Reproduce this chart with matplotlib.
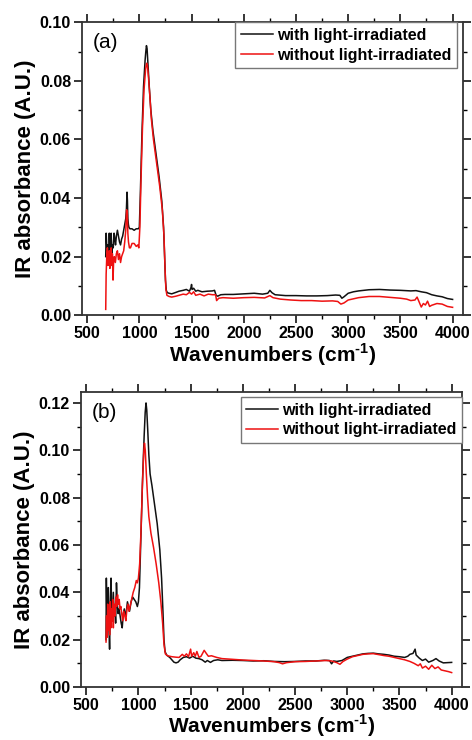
from matplotlib import pyplot as plt
from matplotlib.ticker import MultipleLocator, FormatStrFormatter

# panel (a)
a_w_black = [678, 682, 690, 698, 705, 712, 718, 724, 730, 737, 743, 750, 758, 765, 772, 780, 790, 800, 810, 820,
             830, 840, 850, 860, 870, 876, 882, 886, 890, 895, 900, 910, 930, 950, 970, 990, 1000, 1010, 1025, 1040,
             1055, 1062, 1068, 1074, 1082, 1095, 1110, 1130, 1160, 1190, 1215, 1232, 1242, 1250, 1258, 1268, 1285,
             1310, 1350, 1380, 1420, 1450, 1480, 1495, 1500, 1505, 1520, 1540, 1560, 1600, 1650, 1700, 1720, 1735,
             1750, 1780, 1820, 1900, 2000, 2100, 2180, 2230, 2250, 2270, 2300, 2400, 2500, 2600, 2700, 2800, 2880,
             2920, 2940, 2960, 3000, 3050, 3100, 3200, 3300, 3400, 3500, 3600, 3650, 3700, 3750, 3800, 3850, 3900,
             3950, 4000]
a_black = [0.020, 0.028, 0.022, 0.024, 0.021, 0.028, 0.023, 0.022, 0.028, 0.021, 0.024, 0.023, 0.028, 0.026, 0.024,
           0.027, 0.029, 0.027, 0.025, 0.024, 0.026, 0.027, 0.029, 0.031, 0.033, 0.036, 0.042, 0.039, 0.033, 0.031,
           0.030, 0.0295, 0.0295, 0.029, 0.0295, 0.0295, 0.030, 0.042, 0.062, 0.078, 0.087, 0.090, 0.092, 0.091,
           0.086, 0.078, 0.070, 0.063, 0.055, 0.047, 0.039, 0.030, 0.020, 0.012, 0.0085, 0.0077, 0.0075, 0.0073,
           0.0078, 0.0082, 0.0085, 0.0088, 0.0082, 0.0095, 0.0105, 0.0088, 0.0092, 0.0082, 0.0085, 0.0080, 0.0082,
           0.0083, 0.0085, 0.0068, 0.0065, 0.0070, 0.0071, 0.0071, 0.0073, 0.0075, 0.0072, 0.0075, 0.0085, 0.0077,
           0.0070, 0.0067, 0.0067, 0.0066, 0.0066, 0.0067, 0.0069, 0.0068, 0.0058, 0.0063, 0.0075, 0.0080, 0.0083,
           0.0087, 0.0088, 0.0086, 0.0085, 0.0083, 0.0084, 0.0080, 0.0077, 0.0070, 0.0066, 0.0063, 0.0057, 0.0054]

a_w_red = [678, 682, 688, 694, 700, 706, 712, 718, 724, 730, 736, 742, 748, 754, 760, 770, 780, 790, 800, 810, 820,
           830, 840, 850, 860, 870, 878, 884, 890, 896, 905, 915, 930, 950, 970, 985, 995, 1005, 1015, 1030, 1045,
           1060, 1070, 1078, 1088, 1100, 1115, 1135, 1165, 1195, 1220, 1236, 1246, 1254, 1264, 1285, 1310, 1350,
           1380, 1420, 1450, 1480, 1500, 1520, 1540, 1580, 1620, 1660, 1700, 1730, 1740, 1760, 1800, 1900, 2000,
           2100, 2200, 2250, 2280, 2350, 2450, 2550, 2650, 2750, 2850, 2900, 2930, 2960, 3000, 3100, 3200, 3300,
           3400, 3500, 3560, 3600, 3640, 3660, 3680, 3700, 3720, 3740, 3760, 3780, 3800, 3850, 3900, 3950, 4000]
a_red = [0.002, 0.014, 0.020, 0.023, 0.017, 0.021, 0.022, 0.016, 0.019, 0.023, 0.017, 0.021, 0.012, 0.019, 0.020,
         0.018, 0.021, 0.022, 0.019, 0.021, 0.018, 0.020, 0.021, 0.022, 0.025, 0.029, 0.036, 0.035, 0.028, 0.025,
         0.023, 0.023, 0.0245, 0.0245, 0.0235, 0.024, 0.023, 0.030, 0.045, 0.064, 0.077, 0.084, 0.086, 0.085, 0.081,
         0.075, 0.067, 0.060, 0.052, 0.044, 0.036, 0.027, 0.016, 0.009, 0.0068, 0.0064, 0.0062, 0.0065, 0.0068,
         0.0072, 0.0070, 0.0078, 0.0072, 0.0080, 0.0068, 0.0072, 0.0066, 0.0072, 0.0070, 0.0070, 0.0050, 0.0058,
         0.0060, 0.0058, 0.0060, 0.0061, 0.0059, 0.0067, 0.0060, 0.0055, 0.0052, 0.0050, 0.0050, 0.0048, 0.0049,
         0.0047, 0.0038, 0.0042, 0.0052, 0.0060, 0.0064, 0.0064, 0.0061, 0.0058, 0.0055, 0.0050, 0.0052, 0.0062,
         0.0045, 0.0028, 0.0040, 0.0035, 0.0048, 0.0030, 0.0034, 0.0040, 0.0038, 0.0030, 0.0027]

# panel (b)
b_w_black = [690, 693, 698, 705, 712, 718, 724, 730, 738, 745, 752, 760, 768, 775, 782, 790, 798, 806, 815, 825, 835,
             845, 855, 865, 875, 885, 895, 905, 915, 930, 945, 960, 975, 990, 1000, 1010, 1025, 1040, 1055, 1065,
             1073, 1080, 1090, 1100, 1112, 1130, 1155, 1180, 1205, 1222, 1235, 1245, 1255, 1270, 1300, 1320, 1340,
             1360, 1380, 1400, 1430, 1460, 1490, 1520, 1550, 1580, 1610, 1640, 1660, 1690, 1720, 1760, 1800, 1900,
             2000, 2100, 2200, 2300, 2400, 2500, 2600, 2700, 2780, 2830, 2850, 2870, 2900, 2950, 3000, 3050, 3100,
             3150, 3200, 3250, 3300, 3350, 3400, 3450, 3500, 3550, 3580, 3600, 3630, 3650, 3660, 3690, 3720, 3750,
             3780, 3820, 3850, 3880, 3920, 3960, 4000]
b_black = [0.020, 0.046, 0.030, 0.033, 0.042, 0.025, 0.016, 0.033, 0.046, 0.030, 0.028, 0.040, 0.030, 0.033, 0.027,
           0.044, 0.035, 0.031, 0.033, 0.030, 0.027, 0.025, 0.031, 0.033, 0.030, 0.032, 0.036, 0.034, 0.032, 0.036,
           0.038, 0.037, 0.036, 0.034, 0.036, 0.042, 0.065, 0.088, 0.106, 0.116, 0.120, 0.117, 0.108, 0.098, 0.090,
           0.085, 0.077, 0.069, 0.058, 0.046, 0.032, 0.020, 0.015, 0.0135, 0.0125, 0.0115, 0.0105, 0.0102, 0.0105,
           0.0115, 0.0125, 0.0128, 0.0122, 0.0130, 0.0122, 0.0120, 0.0115, 0.0105, 0.0112, 0.0104, 0.0112, 0.0115,
           0.0112, 0.0113, 0.0112, 0.0110, 0.0111, 0.0108, 0.0107, 0.0108, 0.0110, 0.0110, 0.0113, 0.0112, 0.0098,
           0.0110, 0.0108, 0.0112, 0.0125, 0.0130, 0.0135, 0.0140, 0.0142, 0.0143, 0.0140, 0.0138, 0.0135, 0.0130,
           0.0128, 0.0125, 0.0130, 0.0138, 0.0142, 0.0160, 0.0135, 0.0122, 0.0112, 0.0118, 0.0105, 0.0112, 0.0120,
           0.0110, 0.0102, 0.0103, 0.0104]

b_w_red = [690, 695, 700, 706, 712, 718, 724, 730, 736, 742, 748, 754, 760, 768, 776, 784, 792, 800, 808, 816, 824,
           832, 840, 850, 860, 870, 880, 890, 900, 910, 920, 935, 950, 965, 980, 990, 1000, 1012, 1025, 1038, 1050,
           1058, 1066, 1076, 1088, 1100, 1120, 1145, 1170, 1195, 1215, 1232, 1245, 1258, 1280, 1320, 1360, 1390,
           1420, 1440, 1460, 1480, 1500, 1510, 1530, 1545, 1560, 1580, 1600, 1630, 1650, 1670, 1700, 1750, 1800,
           1900, 2000, 2100, 2200, 2300, 2350, 2380, 2420, 2500, 2600, 2700, 2800, 2850, 2900, 2930, 2960, 3000,
           3050, 3100, 3150, 3200, 3250, 3300, 3350, 3400, 3450, 3500, 3550, 3600, 3640, 3680, 3700, 3720, 3750,
           3780, 3810, 3840, 3870, 3900, 3940, 3970, 4000]
b_red = [0.019, 0.030, 0.021, 0.035, 0.024, 0.032, 0.022, 0.036, 0.025, 0.033, 0.028, 0.037, 0.025, 0.035, 0.030,
         0.038, 0.034, 0.039, 0.035, 0.037, 0.033, 0.034, 0.031, 0.028, 0.032, 0.030, 0.028, 0.033, 0.035, 0.032,
         0.034, 0.037, 0.040, 0.042, 0.045, 0.044, 0.046, 0.052, 0.066, 0.085, 0.098, 0.103, 0.100, 0.090, 0.080,
         0.072, 0.065, 0.059, 0.052, 0.044, 0.036, 0.027, 0.018, 0.014, 0.0132, 0.0128, 0.0126, 0.0125, 0.0138,
         0.0130, 0.0140, 0.0128, 0.0160, 0.0130, 0.0145, 0.0130, 0.0150, 0.0125, 0.0130, 0.0155, 0.0142, 0.0130,
         0.0132, 0.0125, 0.0120, 0.0117, 0.0114, 0.0112, 0.0110, 0.0107, 0.0103, 0.0098, 0.0103, 0.0107, 0.0108,
         0.0110, 0.0112, 0.0110, 0.0103, 0.0096, 0.0108, 0.0118, 0.0128, 0.0133, 0.0138, 0.0140, 0.0141, 0.0137,
         0.0133, 0.0130, 0.0125, 0.0120, 0.0115, 0.0108, 0.0100, 0.0090, 0.0098, 0.0080, 0.0088, 0.0075, 0.0092,
         0.0078, 0.0085, 0.0072, 0.0068, 0.0065, 0.0061]

labels = ['with light-irradiated', 'without light-irradiated']
x_ticks = [500, 1000, 1500, 2000, 2500, 3000, 3500, 4000]

plt.rcParams['font.family'] = ['Liberation Sans', 'DejaVu Sans']
plt.rcParams['mathtext.fontset'] = 'custom'
plt.rcParams['mathtext.rm'] = 'Liberation Sans:bold'
plt.rcParams['mathtext.bf'] = 'Liberation Sans:bold'


def style(ax, ymax, ystep, tag, leg_anchor, xlab_y):
    ax.set_xlim(452, 4100)
    ax.set_ylim(0, ymax)
    ax.set_xticks(x_ticks)
    ax.xaxis.set_minor_locator(MultipleLocator(250))
    ax.yaxis.set_major_locator(MultipleLocator(ystep))
    ax.yaxis.set_minor_locator(MultipleLocator(ystep / 2))
    ax.yaxis.set_major_formatter(FormatStrFormatter('%.2f'))
    ax.tick_params(which='major', direction='out', length=6, width=1.1, labelsize=11.5, pad=2)
    ax.tick_params(which='minor', direction='out', length=3, width=1.0)
    ax.tick_params(which='both', top=True, right=True)
    for lab in ax.get_xticklabels() + ax.get_yticklabels():
        lab.set_fontweight('bold')
    for s in ax.spines.values():
        s.set_linewidth(1.3)
        s.set_color('#333333')
    ax.set_ylabel('IR absorbance (A.U.)', fontsize=16, fontweight='bold', labelpad=3)
    ax.set_xlabel(r'Wavenumbers (cm$^{\text{-}1}$)', fontsize=15, fontweight='bold')
    ax.xaxis.set_label_coords(0.5, xlab_y)
    ax.xaxis.label.set_va('center')
    ax.text(0.028, 0.93, tag, transform=ax.transAxes, fontsize=15, va='center', ha='left')
    leg = ax.legend(loc='upper right', bbox_to_anchor=leg_anchor, borderaxespad=0, fancybox=False,
                    prop={'size': 11.5, 'weight': 'bold'}, handlelength=2.0, handletextpad=0.25,
                    labelspacing=0.3, borderpad=0.35, framealpha=1)
    leg.get_frame().set_edgecolor('#777777')
    leg.get_frame().set_linewidth(1.0)


fig = plt.figure(figsize=(4.72, 7.40), dpi=100)

ax1 = fig.add_axes([0.174, 0.574, 0.807, 0.396])
ax1.plot(a_w_black, a_black, color='#111111', lw=1.1, label=labels[0])
ax1.plot(a_w_red, a_red, color='#ee1111', lw=1.1, label=labels[1])
style(ax1, 0.10, 0.02, '(a)', (0.984, 1.0), -0.135)

ax2 = fig.add_axes([0.172, 0.0716, 0.807, 0.3986])
ax2.plot(b_w_black, b_black, color='#111111', lw=1.1, label=labels[0])
ax2.plot(b_w_red, b_red, color='#ee1111', lw=1.1, label=labels[1])
style(ax2, 0.1246, 0.02, '(b)', (1.0, 0.983), -0.13)

fig.savefig('out.png', dpi=100)
